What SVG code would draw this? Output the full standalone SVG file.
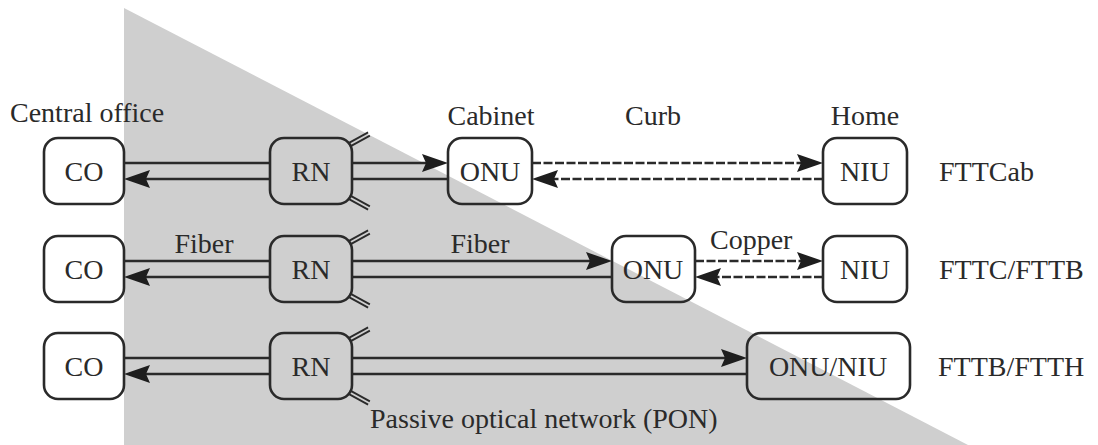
<svg xmlns="http://www.w3.org/2000/svg" width="1098" height="445" viewBox="0 0 1098 445">
<style>
.t{font-size:28px;fill:#2a2a2a}
.m{text-anchor:middle}
.box{fill:none;stroke:#2a2a2a;stroke-width:2.6}
.ln{stroke:#2a2a2a;stroke-width:2.6;fill:none}
.ds{stroke:#2a2a2a;stroke-width:2.6;fill:none;stroke-dasharray:9 2.5}
.stub{stroke:#2a2a2a;stroke-width:1.8}
</style>
<defs>
<marker id="ah" viewBox="0 0 26 18" refX="16" refY="9" markerWidth="26" markerHeight="18" markerUnits="userSpaceOnUse" orient="auto">
<path d="M0,0 L26,9 L0,18 L4,9 Z" fill="#1e1e1e"/>
</marker>
<g id="stubs">
<line class="stub" x1="348.1" y1="3.4" x2="368.1" y2="-7.6"/>
<line class="stub" x1="349.9" y1="6.6" x2="369.9" y2="-4.4"/>
</g>
</defs>
<rect width="1098" height="445" fill="#fff"/>
<polygon points="124,8 124,445 968,445" fill="#cfcfcf"/>

<g id="connectors">
<line class="ln" x1="124" y1="163" x2="270" y2="163"/>
<line class="ln" x1="270" y1="179" x2="134" y2="179" marker-end="url(#ah)"/>
<line class="ln" x1="352" y1="163" x2="438" y2="163" marker-end="url(#ah)"/>
<line class="ln" x1="352" y1="179" x2="448" y2="179"/>
<line class="ds" x1="532" y1="163" x2="813" y2="163" marker-end="url(#ah)"/>
<line class="ds" x1="823" y1="179" x2="542" y2="179" marker-end="url(#ah)"/>
<line class="ln" x1="124" y1="261" x2="270" y2="261"/>
<line class="ln" x1="270" y1="277" x2="134" y2="277" marker-end="url(#ah)"/>
<line class="ln" x1="352" y1="261" x2="602" y2="261" marker-end="url(#ah)"/>
<line class="ln" x1="352" y1="277" x2="612" y2="277"/>
<line class="ds" x1="695" y1="261" x2="813" y2="261" marker-end="url(#ah)"/>
<line class="ds" x1="823" y1="277" x2="705" y2="277" marker-end="url(#ah)"/>
<line class="ln" x1="124" y1="358" x2="270" y2="358"/>
<line class="ln" x1="270" y1="374" x2="134" y2="374" marker-end="url(#ah)"/>
<line class="ln" x1="352" y1="358" x2="737" y2="358" marker-end="url(#ah)"/>
<line class="ln" x1="352" y1="374" x2="747" y2="374"/>
</g>

<g font-family="Liberation Serif, serif">
<g id="co1"><rect class="box" x="44" y="138" width="80" height="66" rx="14"/><text class="t m" x="84" y="181">CO</text></g>
<g id="rn1"><rect class="box" x="270" y="138" width="82" height="66" rx="14"/><text class="t m" x="311" y="181">RN</text>
<use href="#stubs" transform="translate(0,140)"/><use href="#stubs" transform="translate(0,202) scale(1,-1)"/></g>
<g id="onu1"><rect class="box" x="448" y="138" width="84" height="66" rx="14"/><text class="t m" x="490" y="181">ONU</text></g>
<g id="niu1"><rect class="box" x="823" y="138" width="84" height="66" rx="14"/><text class="t m" x="865" y="181">NIU</text></g>

<g id="co2"><rect class="box" x="44" y="236" width="80" height="66" rx="14"/><text class="t m" x="84" y="279">CO</text></g>
<g id="rn2"><rect class="box" x="270" y="236" width="82" height="66" rx="14"/><text class="t m" x="311" y="279">RN</text>
<use href="#stubs" transform="translate(0,238)"/><use href="#stubs" transform="translate(0,300) scale(1,-1)"/></g>
<g id="onu2"><rect class="box" x="612" y="236" width="83" height="66" rx="14"/><text class="t m" x="653" y="279">ONU</text></g>
<g id="niu2"><rect class="box" x="823" y="236" width="84" height="66" rx="14"/><text class="t m" x="865" y="279">NIU</text></g>

<g id="co3"><rect class="box" x="44" y="333" width="80" height="66" rx="14"/><text class="t m" x="84" y="376">CO</text></g>
<g id="rn3"><rect class="box" x="270" y="333" width="82" height="66" rx="14"/><text class="t m" x="311" y="376">RN</text>
<use href="#stubs" transform="translate(0,335)"/><use href="#stubs" transform="translate(0,397) scale(1,-1)"/></g>
<g id="onuniu3"><rect class="box" x="747" y="333" width="163" height="66" rx="14"/><text class="t m" x="828" y="376">ONU/NIU</text></g>

<g id="labels">
<text class="t" x="10" y="122">Central office</text>
<text class="t m" x="491" y="125">Cabinet</text>
<text class="t m" x="653" y="125">Curb</text>
<text class="t m" x="865" y="125">Home</text>
<text class="t" x="939" y="181">FTTCab</text>
<text class="t" x="939" y="279">FTTC/FTTB</text>
<text class="t" x="938" y="376">FTTB/FTTH</text>
<text class="t m" x="204" y="253">Fiber</text>
<text class="t m" x="480" y="253">Fiber</text>
<text class="t" x="710" y="249">Copper</text>
<text class="t" x="370" y="428">Passive optical network (PON)</text>
</g>
</g>
</svg>
